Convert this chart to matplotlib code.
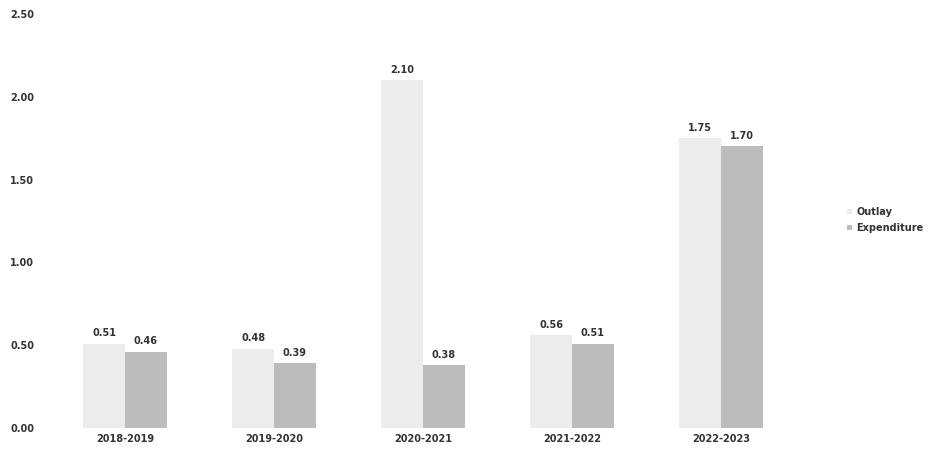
import matplotlib
matplotlib.use("Agg")
import matplotlib.pyplot as plt
import numpy as np

categories = ["2018-2019", "2019-2020", "2020-2021", "2021-2022", "2022-2023"]
outlay = [0.51, 0.48, 2.10, 0.56, 1.75]
expenditure = [0.46, 0.39, 0.38, 0.51, 1.70]
yticks = [0.0, 0.5, 1.0, 1.5, 2.0, 2.5]

c_out = "#ececec"
c_exp = "#bcbcbc"
txt = "#333333"

plt.rcParams['font.family'] = ['DejaVu Sans']

fig = plt.figure(figsize=(9.32, 4.54), dpi=100)
W, H = 932, 454
ax = fig.add_axes([45 / W, 26 / H, 755 / W, 414 / H])

x = np.arange(len(categories))
w = 0.28
b1 = ax.bar(x - w / 2, outlay, w, color=c_out, label="Outlay")
b2 = ax.bar(x + w / 2, expenditure, w, color=c_exp, label="Expenditure")

for bars, vals in ((b1, outlay), (b2, expenditure)):
    for r, v in zip(bars, vals):
        ax.annotate(f"{v:.2f}", (r.get_x() + r.get_width() / 2, v),
                    xytext=(0, 4), textcoords="offset points",
                    ha="center", va="bottom", fontsize=7, color=txt,
                    fontweight="bold")

ax.set_xlim((45 - 125) / 149, (45 - 125) / 149 + 755 / 149)
ax.set_ylim(0, 2.5)
ax.set_yticks(yticks)
ax.set_yticklabels([f"{t:.2f}" for t in yticks], fontsize=7, color=txt,
                   fontweight="bold", ha="left")
ax.set_xticks(x)
ax.set_xticklabels(categories, fontsize=7, color=txt, fontweight="bold")
ax.tick_params(length=0, axis="y", pad=25)
ax.tick_params(length=0, axis="x", pad=4)
for s in ax.spines.values():
    s.set_visible(False)

leg = fig.legend(handles=[b1, b2], labels=["Outlay", "Expenditure"],
                 loc="center left", bbox_to_anchor=(838 / W, 1 - 220 / H),
                 frameon=False, fontsize=7, handlelength=0.5, handleheight=0.5,
                 handletextpad=0.5, labelspacing=0.6, labelcolor=txt,
                 prop={"weight": "bold", "size": 7})

fig.savefig("out.png", dpi=100)
